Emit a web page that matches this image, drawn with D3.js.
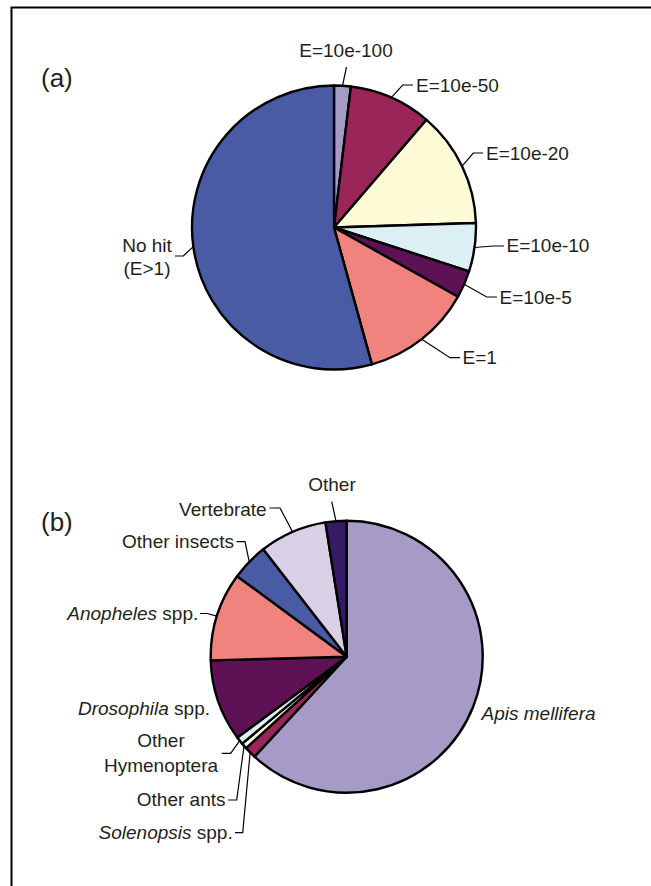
<!DOCTYPE html>
<html>
<head>
<meta charset="utf-8">
<script src="https://cdn.jsdelivr.net/npm/d3@7"></script>
<style>
  html, body { margin: 0; padding: 0; background: #fff; }
  svg { display: block; }
  text { font-family: "Liberation Sans", Arial, Helvetica, sans-serif; fill: #231f20; }
</style>
</head>
<body>
<div id="chart"></div>
<script>
// ---------- data ----------
const catsA = ["E=10e-100", "E=10e-50", "E=10e-20", "E=10e-10", "E=10e-5", "E=1", "No hit (E>1)"];
const valsA = [1.9, 9.4, 13.2, 5.5, 3.1, 12.6, 54.3];
const colorsA = ["#a59bc6", "#9a2659", "#fdfad6", "#dceff5", "#5e1255", "#f0837d", "#4a5ba6"];

const catsB = ["Apis mellifera", "Solenopsis spp.", "Other ants", "Other Hymenoptera",
               "Drosophila spp.", "Anopheles spp.", "Other insects", "Vertebrate", "Other"];
const valsB = [61.8, 1.4, 0.7, 0.9, 9.7, 10.5, 4.4, 8.0, 2.5];
const colorsB = ["#a59bc6", "#9a2659", "#fdfad6", "#dceff5", "#5e1255", "#f0837d", "#4a5ba6", "#d9d0e6", "#351a66"];

// label text pieces: [text, italic]
const labelPartsB = [
  [[["Apis mellifera", true]]],
  [[["Solenopsis", true], [" spp.", false]]],
  [[["Other ants", false]]],
  [[["Other", false]], [["Hymenoptera", false]]],
  [[["Drosophila", true], [" spp.", false]]],
  [[["Anopheles", true], [" spp.", false]]],
  [[["Other insects", false]]],
  [[["Vertebrate", false]]],
  [[["Other", false]]]
];
const labelPartsA = [
  [[["E=10e-100", false]]], [[["E=10e-50", false]]], [[["E=10e-20", false]]],
  [[["E=10e-10", false]]], [[["E=10e-5", false]]], [[["E=1", false]]],
  [[["No hit", false]], [["(E>1)", false]]]
];

// ---------- layout (label placement: elbow point, text anchor point) ----------
// leader: pie edge at mid-angle -> elbow (ex,ey) -> (lx,ey) ; text at (tx,ty) with anchor
const layoutA = [
  {ex: 346.5, ey: 67,  lx: null, tx: 346, ty: 50,  anchor: "middle"},
  {ex: 402.7, ey: 85,  lx: 413,  tx: 416, ty: 85,  anchor: "start"},
  {ex: 473.3, ey: 153, lx: 483,  tx: 486, ty: 153, anchor: "start"},
  {ex: 493.3, ey: 246, lx: 504,  tx: 506.5, ty: 245, anchor: "start"},
  {ex: 486.7, ey: 297, lx: 497,  tx: 499.5, ty: 297, anchor: "start"},
  {ex: 450,   ey: 357.7, lx: 460, tx: 462.5, ty: 357.7, anchor: "start"},
  {ex: 183.3, ey: 256, lx: 175,  tx: 147, ty: 245, anchor: "middle", lh: 23.3}
];
const layoutB = [
  {ex: null, tx: 481.5, ty: 713.3, anchor: "start"},
  {ex: 242.7, ey: 832.7, lx: 235, tx: 232.7, ty: 832.7, anchor: "end"},
  {ex: 236.7, ey: 800, lx: 228.3, tx: 225.5, ty: 799.5, anchor: "end"},
  {ex: 230.7, ey: 753.3, lx: 221.7, tx: 161, ty: 740.7, anchor: "middle", lh: 24.3},
  {ex: null, tx: 210, ty: 708.3, anchor: "end"},
  {ex: 207, ey: 613.5, lx: 200, tx: 198.3, ty: 613.3, anchor: "end"},
  {ex: 245, ey: 541.7, lx: 236.5, tx: 234, ty: 541.7, anchor: "end"},
  {ex: 280, ey: 508, lx: 269.5, tx: 266.7, ty: 509.3, anchor: "end"},
  {ex: 331.7, ey: 501.7, lx: null, tx: 332, ty: 484, anchor: "middle"}
];

const W = 651, H = 886;
const FS = 19;

const svg = d3.select("#chart").append("svg")
  .attr("width", W).attr("height", H);

// frame
svg.append("path")
  .attr("d", `M11.5,${H} L11.5,7.5 L${W},7.5`)
  .attr("fill", "none").attr("stroke", "#000").attr("stroke-width", 2);

function drawPie(cx, cy, r, vals, colors, labels, layout) {
  const g = svg.append("g").attr("transform", `translate(${cx},${cy})`);
  const pie = d3.pie().sort(null).value(d => d)(vals);
  const arc = d3.arc().innerRadius(0).outerRadius(r);
  g.selectAll("path.slice").data(pie).join("path")
    .attr("class", "slice")
    .attr("d", arc)
    .attr("fill", (d, i) => colors[i])
    .attr("stroke", "#000")
    .attr("stroke-width", 2.4)
    .attr("stroke-linejoin", "round");

  pie.forEach((d, i) => {
    const L = layout[i];
    const mid = (d.startAngle + d.endAngle) / 2;
    const sx = cx + r * Math.sin(mid), sy = cy - r * Math.cos(mid);
    if (L.ex != null) {
      let pts = [[sx, sy], [L.ex, L.ey]];
      if (L.lx != null) pts.push([L.lx, L.ey]);
      svg.append("path")
        .attr("d", d3.line()(pts))
        .attr("fill", "none").attr("stroke", "#000").attr("stroke-width", 1.2);
    }
    const lines = labels[i];
    const lh = L.lh || 0;
    lines.forEach((parts, k) => {
      const t = svg.append("text")
        .attr("x", L.tx)
        .attr("y", L.ty + k * lh + FS * 0.35)
        .attr("text-anchor", L.anchor)
        .style("font-size", FS + "px");
      parts.forEach(([s, it]) => {
        t.append("tspan").text(s).style("font-style", it ? "italic" : "normal");
      });
    });
  });
}

drawPie(334, 227.5, 142, valsA, colorsA, labelPartsA, layoutA);
drawPie(346.7, 656.7, 136, valsB, colorsB, labelPartsB, layoutB);

// panel labels
svg.append("text").attr("x", 41).attr("y", 87).style("font-size", "26px").text("(a)");
svg.append("text").attr("x", 41).attr("y", 531).style("font-size", "26px").text("(b)");
</script>
</body>
</html>
